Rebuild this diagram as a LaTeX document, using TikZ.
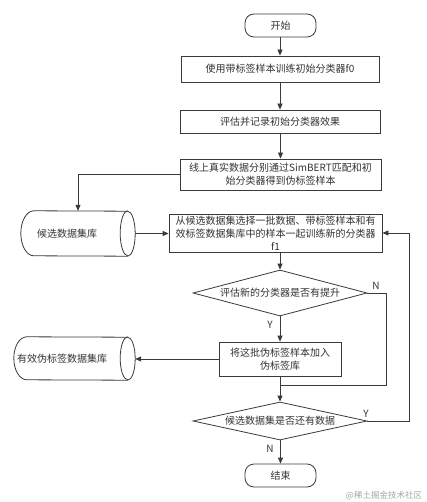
\documentclass[tikz,border=0pt]{standalone}
\usepackage{fontspec}
\setmainfont{Noto Sans CJK SC}
\usetikzlibrary{shapes.geometric,arrows.meta}
\definecolor{lc}{HTML}{3A3A3A}
\definecolor{tc}{HTML}{333333}
\begin{document}
\begin{tikzpicture}[x=1pt,y=-1pt,
  base/.style={draw=lc, line width=0.8pt, fill=white, inner sep=0pt, font=\fontsize{10}{13}\selectfont, align=center, text=tc},
  term/.style={base, rounded corners=9pt, minimum width=71pt, minimum height=23pt},
  proc/.style={base, rectangle},
  dec/.style={base, diamond, minimum width=174pt},
  store/.style={rectangle, inner sep=0pt},
  txt/.style={inner sep=0pt, font=\fontsize{10}{13}\selectfont, text=tc},
  arr/.style={draw=lc, line width=0.8pt, -{Triangle[length=6pt,width=5pt]}},
  ln/.style={draw=lc, line width=0.8pt},
  yn/.style={inner sep=0pt, font=\fontsize{10}{12}\selectfont, text=tc}
]
\useasboundingbox[fill=white] (0,0) rectangle (427,502);

\node[term] (start) at (280.5,25.5) {开始};
\node[proc, minimum width=198pt, minimum height=26pt] (b1) at (280,69) {使用带标签样本训练初始分类器f0};
\node[proc, minimum width=200pt, minimum height=23pt] (b2) at (280,121.5) {评估并记录初始分类器效果};
\node[proc, minimum width=201pt, minimum height=31pt] (b3) at (280.5,174.5) {线上真实数据分别通过SimBERT匹配和初\\始分类器得到伪标签样本};
\node[store, minimum width=114pt, minimum height=45pt] (c1) at (78,233.5) {};
\node[proc, minimum width=213pt, minimum height=38pt] (b4) at (275.5,233) {从候选数据集选择一批数据、带标签样本和有\\效标签数据集库中的样本一起训练新的分类器\\f1};
\node[dec, minimum height=46pt, aspect=3.78] (d1) at (280,293) {评估新的分类器是否有提升};
\node[proc, minimum width=122pt, minimum height=34pt] (b5) at (280,359) {将这批伪标签样本加入\\伪标签库};
\node[store, minimum width=121pt, minimum height=43pt] (c2) at (74.5,358.5) {};
\node[dec, minimum height=38pt, aspect=4.58] (d2) at (280,421) {候选数据集是否还有数据};
\node[term] (end) at (280.5,475.5) {结束};

% cylinders
\draw[ln, fill=white] ([xshift=13pt]c1.north west) arc[start angle=90, end angle=270, x radius=13pt, y radius=22.5pt]
  -- ([xshift=-7.5pt]c1.south east) arc[start angle=-90, end angle=90, x radius=7.5pt, y radius=22.5pt] -- cycle;
\draw[ln] ([xshift=-7.5pt]c1.north east) arc[start angle=90, end angle=270, x radius=7.5pt, y radius=22.5pt];
\node[txt] (c1t) at (67,233.5) {候选数据集库};

\draw[ln, fill=white] ([xshift=13pt]c2.north west) arc[start angle=90, end angle=270, x radius=13pt, y radius=21.5pt]
  -- ([xshift=-7.5pt]c2.south east) arc[start angle=-90, end angle=90, x radius=7.5pt, y radius=21.5pt] -- cycle;
\draw[ln] ([xshift=-7.5pt]c2.north east) arc[start angle=90, end angle=270, x radius=7.5pt, y radius=21.5pt];
\node[txt] (c2t) at (62,358.5) {有效伪标签数据集库};

\coordinate (nr) at (386,385);
\coordinate (j1) at (280,385);
\coordinate (yr) at (409,233);

\draw[arr] (start.south -| b1.north) -- (b1.north);
\draw[arr] (b1) -- (b2);
\draw[arr] (b2.south -| b3.north) -- (b3.north);
\draw[arr] (b3.west) -| (c1.north);
\draw[arr] (c1.east) -- (c1.east -| b4.west);
\draw[arr] (b4.south -| d1.north) -- (d1.north);
\draw[arr] (d1.south) -- (b5.north);
\draw[ln] (d1.east) -| (nr) -- (j1);
\draw[arr] (b5.west) -- (b5.west -| c2.east);
\draw[arr] (b5.south) -- (d2.north);
\draw[arr] (d2.east) -| (yr) -- (b4.east);
\draw[arr] (d2.south -| end.north) -- (end.north);

\node[yn] (n1) at (376,286) {N};
\node[yn] (y1) at (270,325) {Y};
\node[yn] (y2) at (366,414) {Y};
\node[yn] (n2) at (270,449) {N};

\node[inner sep=0pt, font=\fontsize{8.5}{10}\selectfont, text=black!35] (wm) at (384,495.5) {@稀土掘金技术社区};
\end{tikzpicture}
\end{document}
